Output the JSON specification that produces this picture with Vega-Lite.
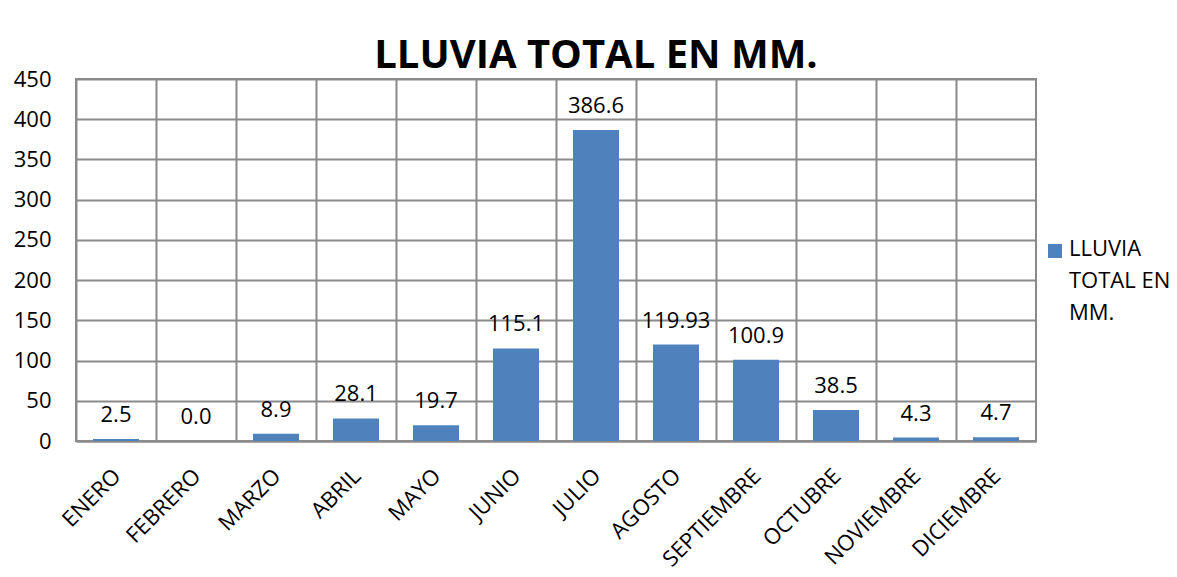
{
  "$schema": "https://vega.github.io/schema/vega-lite/v6.json",
  "autosize": "none",
  "width": 960,
  "height": 362,
  "padding": {"left": 76, "top": 79, "right": 141, "bottom": 136},
  "background": "white",
  "title": {
    "text": "LLUVIA TOTAL EN MM.",
    "font": "Open Sans",
    "fontSize": 40,
    "fontWeight": "bold",
    "color": "black",
    "anchor": "middle",
    "dx": 40,
    "offset": -8
  },
  "data": {
    "values": [
      {"mes": "ENERO", "lluvia": 2.5, "etiqueta": "2.5", "serie": "LLUVIA TOTAL EN MM."},
      {"mes": "FEBRERO", "lluvia": 0.0, "etiqueta": "0.0", "serie": "LLUVIA TOTAL EN MM."},
      {"mes": "MARZO", "lluvia": 8.9, "etiqueta": "8.9", "serie": "LLUVIA TOTAL EN MM."},
      {"mes": "ABRIL", "lluvia": 28.1, "etiqueta": "28.1", "serie": "LLUVIA TOTAL EN MM."},
      {"mes": "MAYO", "lluvia": 19.7, "etiqueta": "19.7", "serie": "LLUVIA TOTAL EN MM."},
      {"mes": "JUNIO", "lluvia": 115.1, "etiqueta": "115.1", "serie": "LLUVIA TOTAL EN MM."},
      {"mes": "JULIO", "lluvia": 386.6, "etiqueta": "386.6", "serie": "LLUVIA TOTAL EN MM."},
      {"mes": "AGOSTO", "lluvia": 119.93, "etiqueta": "119.93", "serie": "LLUVIA TOTAL EN MM."},
      {"mes": "SEPTIEMBRE", "lluvia": 100.9, "etiqueta": "100.9", "serie": "LLUVIA TOTAL EN MM."},
      {"mes": "OCTUBRE", "lluvia": 38.5, "etiqueta": "38.5", "serie": "LLUVIA TOTAL EN MM."},
      {"mes": "NOVIEMBRE", "lluvia": 4.3, "etiqueta": "4.3", "serie": "LLUVIA TOTAL EN MM."},
      {"mes": "DICIEMBRE", "lluvia": 4.7, "etiqueta": "4.7", "serie": "LLUVIA TOTAL EN MM."}
    ]
  },
  "encoding": {
    "x": {
      "field": "mes",
      "type": "nominal",
      "sort": null,
      "scale": {"paddingInner": 0, "paddingOuter": 0},
      "axis": {
        "title": null,
        "labelAngle": -45,
        "labelAlign": "right",
        "labelBaseline": "top",
        "labelPadding": 24,
        "labelOffset": -6,
        "labelFont": "Open Sans",
        "labelFontSize": 22,
        "labelColor": "black",
        "labelLimit": 300,
        "ticks": false,
        "grid": true,
        "bandPosition": 0,
        "gridColor": "#8a8a8a",
        "gridWidth": 2,
        "domainColor": "#8a8a8a",
        "domainWidth": 2
      }
    },
    "y": {
      "field": "lluvia",
      "type": "quantitative",
      "scale": {"domain": [0, 450], "nice": false},
      "axis": {
        "title": null,
        "values": [0, 50, 100, 150, 200, 250, 300, 350, 400, 450],
        "labelFont": "Open Sans",
        "labelFontSize": 22,
        "labelColor": "black",
        "labelPadding": 25,
        "ticks": false,
        "domain": false,
        "gridColor": "#8a8a8a",
        "gridWidth": 2
      }
    }
  },
  "layer": [
    {
      "mark": {"type": "bar", "width": {"band": 0.575}},
      "encoding": {
        "color": {
          "field": "serie",
          "type": "nominal",
          "scale": {"range": ["#4F81BD"]},
          "legend": {
            "title": null,
            "orient": "none",
            "legendX": 968,
            "legendY": 161,
            "symbolType": "square",
            "symbolSize": 196,
            "symbolStrokeWidth": 0,
            "labelFont": "Open Sans",
            "labelFontSize": 22,
            "labelColor": "black",
            "labelLimit": 200,
            "labelOffset": 3,
            "labelBaseline": "top",
            "labelExpr": "['LLUVIA', 'TOTAL EN', 'MM.']",
            "encode": {
              "labels": {"update": {"lineHeight": {"value": 32}, "dy": {"value": -12}}}
            }
          }
        }
      }
    },
    {
      "mark": {"type": "text", "font": "Open Sans", "fontSize": 22, "color": "black", "baseline": "alphabetic", "dy": -17},
      "encoding": {"text": {"field": "etiqueta", "type": "nominal"}}
    }
  ],
  "config": {
    "view": {"stroke": "#8a8a8a", "strokeWidth": 2}
  }
}
